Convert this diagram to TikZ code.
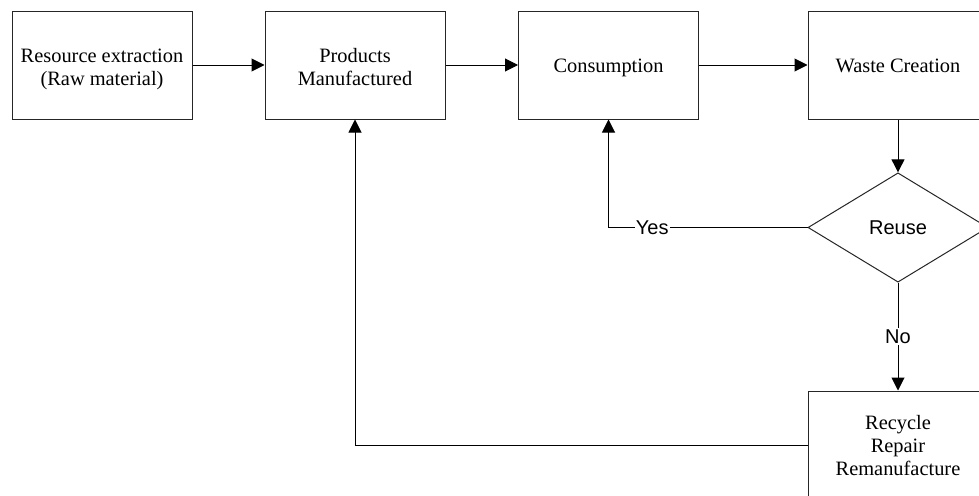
\documentclass[tikz,border=0pt]{standalone}
\usepackage{fontspec}
\setmainfont{Liberation Serif}
\newfontfamily\lblfont{Liberation Sans}
\usetikzlibrary{shapes.geometric,arrows.meta}
\newcommand{\boxtxt}[2]{\raisebox{#1}[\height][\depth]{\begin{tabular}{@{}c@{}}#2\end{tabular}}}
\begin{document}
\begin{tikzpicture}[x=0.75pt,y=-0.75pt,
  box/.style={draw=black!85, line width=0.75pt, fill=white, minimum width=135pt, minimum height=81pt, inner sep=0pt, align=center, font=\fontsize{15.3}{17.25}\selectfont},
  dec/.style={diamond, draw=black!85, line width=0.75pt, fill=white, minimum width=135pt, minimum height=82pt, inner sep=0pt, font=\lblfont\fontsize{15}{17}\selectfont},
  arr/.style={draw=black, line width=0.75pt, -{Triangle[length=9.75pt,width=9.75pt]}},
  lbl/.style={fill=white, inner sep=1pt, font=\lblfont\fontsize{15}{17}\selectfont}]
\clip (0,0) rectangle (979,496);
\fill[white] (0,0) rectangle (979,496);
\node[box] (b1) at (102,65) {\boxtxt{-3pt}{Resource extraction\\(Raw material)}};
\node[box] (b2) at (355,65) {\boxtxt{-3pt}{Products\\Manufactured}};
\node[box] (b3) at (608.5,65) {\boxtxt{-2.2pt}{Consumption}};
\node[box] (b4) at (898,65) {\boxtxt{-2.4pt}{Waste Creation}};
\node[dec] (dia) at (898,227.5) {Reuse};
\node[box] (rec) at (898,445) {\boxtxt{-2.3pt}{Recycle\\Repair\\Remanufacture}};
\draw[arr] (b1) -- (b2);
\draw[arr] (b2) -- (b3);
\draw[arr] (b3) -- (b4);
\draw[arr] (b4) -- (dia);
\draw[arr] (dia.west) -| node[pos=0.39, lbl] {Yes} (b3.south);
\draw[arr] (dia) -- node[lbl] {No} (rec);
\draw[arr] (rec.west) -| (b2.south);
\end{tikzpicture}
\end{document}
